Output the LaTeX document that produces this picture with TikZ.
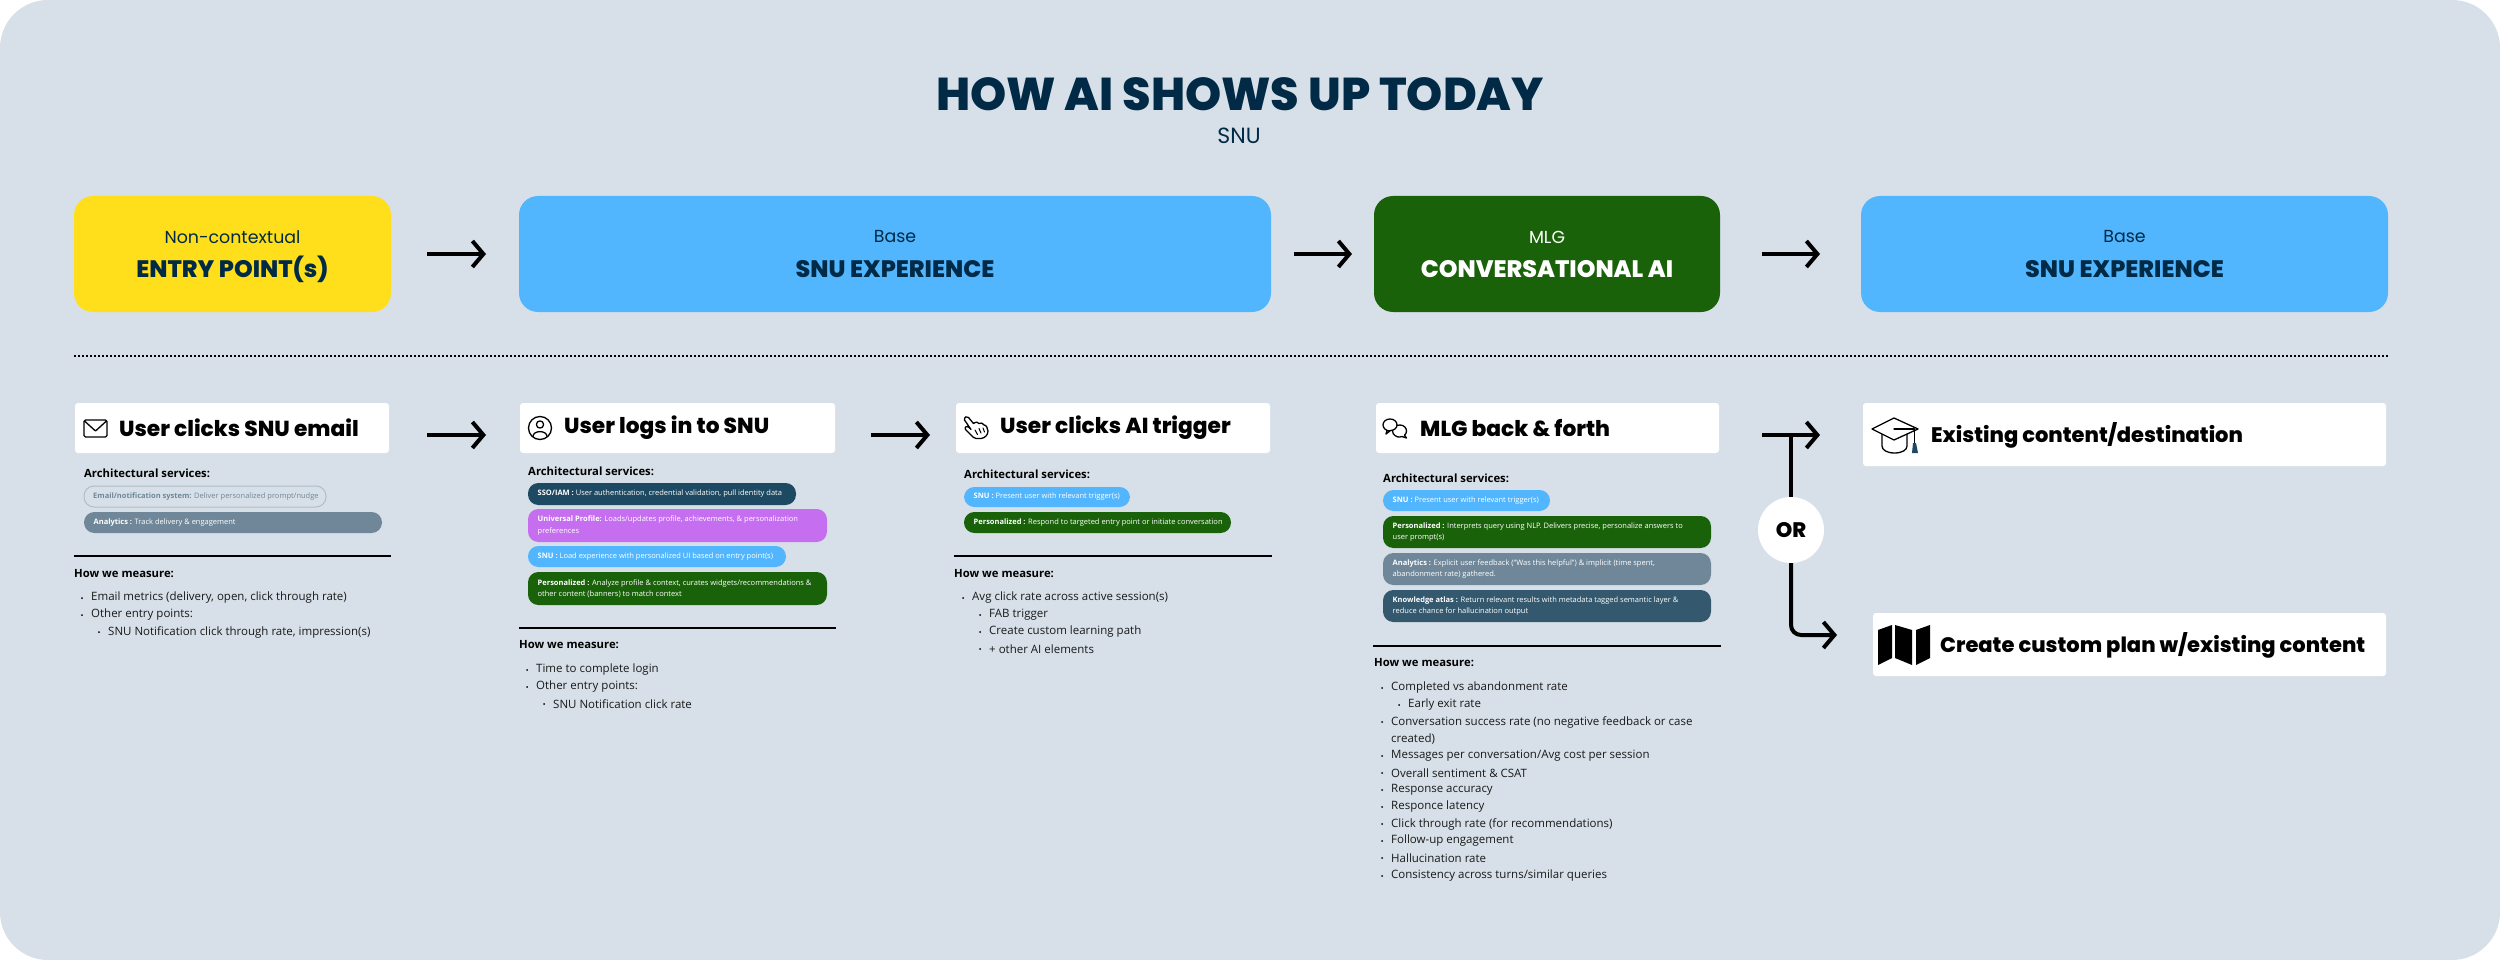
\documentclass[tikz,border=0pt]{standalone}
\usepackage{fontspec}
\setmainfont{Open Sans}
\newfontfamily\headfont{Poppins}[BoldFont={Poppins ExtraBold}]
\usetikzlibrary{arrows.meta,calc}
\definecolor{bgc}{HTML}{D7E0E8}
\definecolor{yel}{HTML}{FFDF1B}
\definecolor{blu}{HTML}{52B6FF}
\definecolor{grn}{HTML}{1A620A}
\definecolor{nav}{HTML}{002A45}
\definecolor{pur}{HTML}{C56FF0}
\definecolor{gry}{HTML}{6F8799}
\definecolor{tea}{HTML}{1D4A62}
\definecolor{kat}{HTML}{34596E}
\tikzset{
 x=1pt,y=-1pt,
 flow/.style={line width=4pt,-{Straight Barb[length=11pt,width=26pt,line width=4pt]},black},
 topbox/.style={rounded corners=19pt,inner sep=0pt,anchor=north west,draw=none,outer sep=0pt},
 card/.style={fill=white,rounded corners=3pt,draw=none,inner sep=0pt,outer sep=0pt,anchor=north west},
 cardtext/.style={anchor=west,inner sep=0pt,font=\headfont\bfseries\fontsize{21.7}{25}\selectfont},
 cardtextb/.style={anchor=west,inner sep=0pt,font=\headfont\bfseries\fontsize{21}{25}\selectfont},
 subhead/.style={anchor=west,inner sep=0pt,font=\bfseries\fontsize{11.3}{14}\selectfont},
 bul/.style={anchor=west,inner sep=0pt,font=\fontsize{11.5}{14}\selectfont,text=black!90},
 rulex/.style={line width=2pt,black},
 pill/.style={rounded corners=10.4pt,draw=none},
 pilltext/.style={anchor=west,inner sep=0pt,align=left,text=white,font=\fontsize{7.5}{11.4}\selectfont},
 icon/.style={line width=1.3pt,black,line join=round,line cap=round},
}
\newcommand{\bulletdot}[2]{\fill[black] (#1,#2) circle (1pt);}
\newcommand{\topcard}[7]{%
 \node[topbox,fill=#3,minimum width={(#2-#1)*1pt},minimum height=116pt] (#7) at (#1,196) {};
 \node[inner sep=0pt,text=#6,font=\headfont\fontsize{17.4}{21}\selectfont] (#7a) at ({(#1+#2)/2},237) {#4};
 \node[inner sep=0pt,text=#6,font=\headfont\bfseries\fontsize{23.8}{28}\selectfont] (#7b) at ({(#1+#2)/2},269) {#5};
}
\newcommand{\whitecard}[5]{\node[card,minimum width={(#2-#1)*1pt},minimum height={(#4-#3)*1pt}] (#5) at (#1,#3) {};}
\newcommand{\pillbar}[7]{% x1 x2 y1 y2 colour name text
 \fill[#5,pill] (#1,#3) rectangle (#2,#4);
 \node[pilltext] (#6) at ({#1+9.5},{(#3+#4)/2}) {#7};
}
\newcommand{\meas}[3]{\bulletdot{#1}{#2}\node[bul] at ({#1+9},#2) {#3};}
\begin{document}
\begin{tikzpicture}
\useasboundingbox (0,0) rectangle (2500,960);
\fill[white] (0,0) rectangle (2500,960);
\fill[bgc,rounded corners=48pt] (0,0) rectangle (2500,960);
% title
\node[inner sep=0pt,text=nav,font=\headfont\bfseries\fontsize{46}{50}\selectfont] (title) at (1240,94) {HOW AI SHOWS UP TODAY};
\node[inner sep=0pt,text=nav,font=\headfont\fontsize{22}{26}\selectfont] (subt) at (1239,136) {SNU};
% top
\topcard{74}{391}{yel}{Non-contextual}{ENTRY POINT(s)}{nav}{ta}
\topcard{519}{1271}{blu}{Base}{SNU EXPERIENCE}{nav}{tb}
\topcard{1374}{1720}{grn}{MLG}{CONVERSATIONAL AI}{white}{tc}
\topcard{1861}{2388}{blu}{Base}{SNU EXPERIENCE}{nav}{td}
\draw[flow,shorten <=36pt,shorten >=33pt] (ta.east)--(tb.west);
\draw[flow,shorten <=23pt,shorten >=22pt] (tb.east)--(tc.west);
\draw[flow,shorten <=42pt,shorten >=41pt] (tc.east)--(td.west);
\coordinate (dl) at (74,356); \coordinate (dr) at (2388,356);
\draw[black,line width=1.8pt,dash pattern=on 2pt off 2pt] (dl)--(dr);
% cards
\whitecard{75}{389}{403}{453}{k1}
\whitecard{520}{835}{403}{453}{k2}
\whitecard{956}{1270}{403}{453}{k3}
\whitecard{1376}{1719}{403}{453}{k4}
\whitecard{1863}{2386}{403}{466}{k5}
\whitecard{1873}{2386}{613}{676}{k6}
\node[cardtext] (c1) at (119,428) {User clicks SNU email};
\node[cardtext] (c2) at (564,428) {User logs in to SNU};
\node[cardtext] (c3) at (1000,428) {User clicks AI trigger};
\node[cardtext] (c4) at (1420,428) {MLG back \& forth};
\node[cardtextb] (c5) at (1931,435) {Existing content/destination};
\node[cardtextb] (c6) at (1940,645) {Create custom plan w/existing content};
\draw[flow,shorten <=38pt,shorten >=34pt] ([yshift=-7pt]k1.east)--([yshift=-7pt]k2.west);
\draw[flow,shorten <=36pt,shorten >=26pt] ([yshift=-7pt]k2.east)--([yshift=-7pt]k3.west);
% icons
\draw[icon,rounded corners=1.5pt] (84,420) rectangle (107,437);
\draw[icon] (84.5,421) -- (95.5,431) -- (106.5,421);
\draw[icon] (540,428) circle (11.5);
\draw[icon] (540,424.5) circle (3.6);
\draw[icon] (533,436.5) .. controls (533,430) and (547,430) .. (547,436.5);
% hand
\draw[icon] (964.5,420) .. controls (964,417) and (967,415.5) .. (968.5,417.5) -- (973.5,423.5) .. controls (976,421.5) and (978,422) .. (979,423.5) .. controls (981,422.5) and (983,423) .. (984,425) .. controls (986,425) and (988,428) .. (988,431) .. controls (988,435) and (985,438) .. (981,438.5) -- (976,438.5) .. controls (974,438) and (972,436.5) .. (971,435) -- (965.5,429.5) .. controls (964,427) and (967,425.5) .. (969,427.5) -- (971,429.5) -- cycle;
\draw[icon,line width=1pt] (975,430)--(977.5,434.5) (979,428.5)--(981,433) (983,428)--(984.5,432);
% chat
\draw[icon] (1400,437) .. controls (1397,437.5) and (1392.5,435) .. (1392.5,431) .. controls (1392.5,427) and (1396,425) .. (1400,425) .. controls (1404,425) and (1406.5,428) .. (1406.5,431) .. controls (1406.5,433) and (1405.5,434.5) .. (1404.5,435) -- (1406.5,438) -- (1402,436.5) -- cycle;
\filldraw[icon,fill=white] (1390,431) .. controls (1386,431) and (1383,428) .. (1383,425) .. controls (1383,421.5) and (1386,419) .. (1390,419) .. controls (1394,419) and (1397,421.5) .. (1397,425) .. controls (1397,428) and (1394,430.5) .. (1390.5,430.5) -- (1386,434) -- (1387,430.5);
% grad cap
\draw[icon] (1882,434) -- (1882,446) .. controls (1882,450) and (1887,453) .. (1894.5,453) .. controls (1902,453) and (1907,450) .. (1907,446) -- (1907,434);
\filldraw[icon,fill=white] (1872,429) -- (1894,418) -- (1918,429) -- (1894,440) -- cycle;
\draw[icon] (1894,429) -- (1914.5,429) -- (1914.5,443);
\fill[tea] (1913,443) -- (1916,443) -- (1918,453) -- (1912,453) -- cycle;
% map
\fill[black] (1878,630) -- (1892,625) -- (1892,658) -- (1878,665) -- cycle;
\fill[black] (1895,625) -- (1912,630) -- (1912,665) -- (1895,658) -- cycle;
\fill[black] (1916,630) -- (1930,625) -- (1930,658) -- (1916,665) -- cycle;
% col 1
\node[subhead] (a1) at (84,473) {Architectural services:};
\draw[gry!55,line width=1pt,rounded corners=10pt] (84,486) rectangle (326,507);
\node[pilltext,text=gry] (p1a) at (93,496.5) {\textbf{Email/notification system:} Deliver personalized prompt/nudge};
\pillbar{84}{382}{512}{533}{gry}{p1b}{\textbf{Analytics :} Track delivery \& engagement}
\coordinate (r1l) at (74,556); \coordinate (r1r) at (391,556);
\draw[rulex] (r1l)--(r1r);
\node[subhead] (h1) at (74,574) {How we measure:};
\meas{82}{598}{Email metrics (delivery, open, click through rate)}
\meas{82}{615}{Other entry points:}
\meas{99}{632}{SNU Notification click through rate, impression(s)}
% col 2
\node[subhead] (a2) at (528,471) {Architectural services:};
\pillbar{528}{796}{483}{505}{tea}{p2a}{\textbf{SSO/IAM :} User authentication, credential validation, pull identity data}
\pillbar{528}{827}{509}{542}{pur}{p2b}{\textbf{Universal Profile:} Loads/updates profile, achievements, \& personalization\\preferences}
\pillbar{528}{786}{546}{567}{blu}{p2c}{\textbf{SNU :} Load experience with personalized UI based on entry point(s)}
\pillbar{528}{827}{572}{605}{grn}{p2d}{\textbf{Personalized :} Analyze profile \& context, curates widgets/recommendations \&\\other content (banners) to match context}
\coordinate (r2l) at (519,627.5); \coordinate (r2r) at (836,627.5);
\draw[rulex] (r2l)--(r2r);
\node[subhead] (h2) at (519,645) {How we measure:};
\meas{527}{670}{Time to complete login}
\meas{527}{687}{Other entry points:}
\meas{544}{704}{SNU Notification click rate}
% col 3
\node[subhead] (a3) at (964,474) {Architectural services:};
\pillbar{964}{1130}{487}{507}{blu}{p3a}{\textbf{SNU :} Present user with relevant trigger(s)}
\pillbar{964}{1231}{512}{533}{grn}{p3b}{\textbf{Personalized :} Respond to targeted entry point or initiate conversation}
\coordinate (r3l) at (954,556); \coordinate (r3r) at (1272,556);
\draw[rulex] (r3l)--(r3r);
\node[subhead] (h3) at (954,574) {How we measure:};
\meas{963}{598}{Avg click rate across active session(s)}
\meas{980}{615}{FAB trigger}
\meas{980}{632}{Create custom learning path}
\meas{980}{649}{+ other AI elements}
% col 4
\node[subhead] (a4) at (1383,478) {Architectural services:};
\pillbar{1383}{1550}{490}{511}{blu}{p4a}{\textbf{SNU :} Present user with relevant trigger(s)}
\pillbar{1383}{1711}{516}{548}{grn}{p4b}{\textbf{Personalized :} Interprets query using NLP. Delivers precise, personalize answers to\\user prompt(s)}
\pillbar{1383}{1711}{553}{585}{gry}{p4c}{\textbf{Analytics :} Explicit user feedback (``Was this helpful'') \& implicit (time spent,\\abandonment rate) gathered.}
\pillbar{1383}{1711}{590}{622}{kat}{p4d}{\textbf{Knowledge atlas :} Return relevant results with metadata tagged semantic layer \&\\reduce chance for hallucination output}
\coordinate (r4l) at (1373,646); \coordinate (r4r) at (1721,646);
\draw[rulex] (r4l)--(r4r);
\node[subhead] (h4) at (1374,663) {How we measure:};
\meas{1382}{688}{Completed vs abandonment rate}
\meas{1399}{705}{Early exit rate}
\meas{1382}{722}{Conversation success rate (no negative feedback or case}
\node[bul] (wrapline) at (1391,739) {created)};
\meas{1382}{756}{Messages per conversation/Avg cost per session}
\meas{1382}{773}{Overall sentiment \& CSAT}
\meas{1382}{790}{Response accuracy}
\meas{1382}{807}{Responce latency}
\meas{1382}{824}{Click through rate (for recommendations)}
\meas{1382}{841}{Follow-up engagement}
\meas{1382}{858}{Hallucination rate}
\meas{1382}{876}{Consistency across turns/similar queries}
% OR
\node[circle,fill=white,minimum size=66pt,inner sep=0pt,font=\headfont\bfseries\fontsize{21}{25}\selectfont] (orn) at (1791,530) {OR};
\coordinate (j1) at (1762,435);
\coordinate (j2) at (1791,437);
\coordinate (j3) at (1837,635);
\draw[flow,shorten >=43pt] (j1)--(k5.west|-j1);
\draw[line width=3.5pt] (orn.north)--(j2);
\draw[flow,rounded corners=10pt] (orn.south)|-(j3);
\end{tikzpicture}
\end{document}
